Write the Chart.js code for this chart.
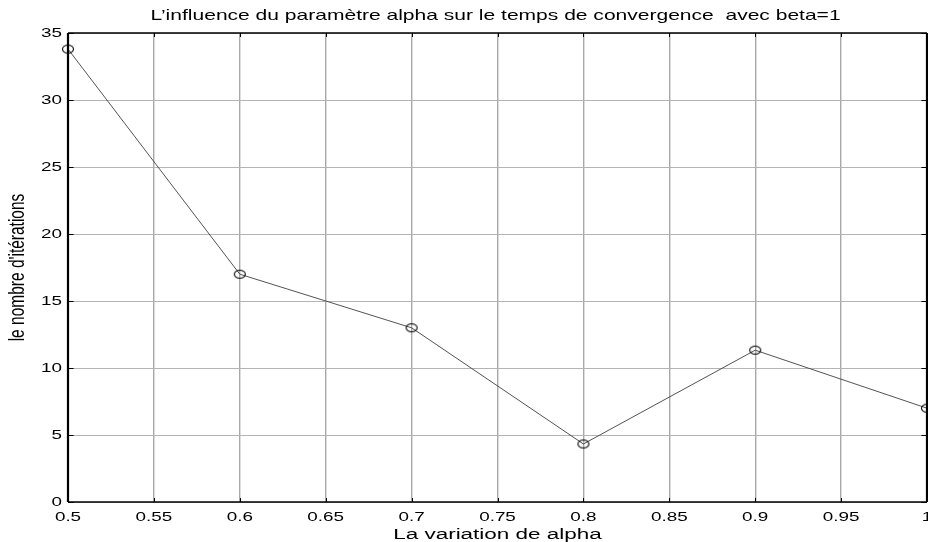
<!DOCTYPE html>
<html lang="fr">
<head>
<meta charset="utf-8">
<title>Influence du paramètre alpha</title>
<script src="https://cdn.jsdelivr.net/npm/chart.js@4.4.1/dist/chart.umd.min.js"></script>
<style>
	html, body { margin: 0; padding: 0; background: #ffffff; }
	#wrap { width: 928px; height: 542px; }
</style>
</head>
<body>
<div id="wrap"><canvas id="alphaChart" width="928" height="542"></canvas></div>
<script>
// Données
const valeursAlpha = [0.5, 0.6, 0.7, 0.8, 0.9, 1.0];
const nombreIterations = [33.8, 17, 13, 4.33, 11.33, 7];
const ticksX = [0.5, 0.55, 0.6, 0.65, 0.7, 0.75, 0.8, 0.85, 0.9, 0.95, 1];
const ticksY = [0, 5, 10, 15, 20, 25, 30, 35];

const titreGraphe = "L\u2019influence du paramètre alpha sur le temps de convergence  avec beta=1";
const titreX = "La variation de alpha";
const titreY = "le nombre d'itérations";

const policeBase = "Arial, 'Liberation Sans', Helvetica, sans-serif";
// La figure d'origine est étirée horizontalement
const etirement = 1.45;

/**
 * Écrit un texte étiré horizontalement (comme sur la figure d'origine).
 */
function texteEtire(ctx, texte, x, y, align, taille) {
	ctx.save();
	ctx.translate(x, y);
	ctx.scale(etirement, 1);
	ctx.font = taille + "px " + policeBase;
	ctx.textAlign = align;
	ctx.fillText(texte, 0, 0);
	ctx.restore();
}

/**
 * Marqueur : cercle vide, un peu élargi comme l'image source.
 */
function creerMarqueur() {
	const c = document.createElement("canvas");
	c.width = 14;
	c.height = 11;
	const g = c.getContext("2d");
	g.strokeStyle = "#000000";
	g.lineWidth = 1.1;
	g.beginPath();
	g.ellipse(7, 5.5, 5.5, 4, 0, 0, Math.PI * 2);
	g.stroke();
	return c;
}

/**
 * Plugin : cadre noir, graduations vers l'intérieur, textes (style MATLAB).
 */
const cadreMatlab = {
	id: "cadreMatlab",
	afterDraw(chart) {
		const ctx = chart.ctx;
		const a = chart.chartArea;
		const sx = chart.scales.x;
		const sy = chart.scales.y;
		const longueur = 4;

		ctx.save();
		ctx.strokeStyle = "#000000";
		ctx.lineWidth = 1;
		ctx.beginPath();
		ticksX.forEach((v) => {
			const px = Math.round(sx.getPixelForValue(v)) + 0.5;
			ctx.moveTo(px, a.bottom);
			ctx.lineTo(px, a.bottom - longueur);
			ctx.moveTo(px, a.top);
			ctx.lineTo(px, a.top + longueur);
		});
		ticksY.forEach((v) => {
			const py = Math.round(sy.getPixelForValue(v)) + 0.5;
			ctx.moveTo(a.left, py);
			ctx.lineTo(a.left + longueur * 1.4, py);
			ctx.moveTo(a.right, py);
			ctx.lineTo(a.right - longueur * 1.4, py);
		});
		ctx.stroke();

		// cadre : bords verticaux plus épais (image étirée)
		ctx.lineWidth = 1.6;
		ctx.beginPath();
		ctx.moveTo(a.left, a.top);
		ctx.lineTo(a.right, a.top);
		ctx.moveTo(a.left, a.bottom);
		ctx.lineTo(a.right, a.bottom);
		ctx.stroke();
		ctx.lineWidth = 2.2;
		ctx.beginPath();
		ctx.moveTo(a.left, a.top);
		ctx.lineTo(a.left, a.bottom);
		ctx.moveTo(a.right, a.top);
		ctx.lineTo(a.right, a.bottom);
		ctx.stroke();

		// Textes
		ctx.fillStyle = "#000000";
		ctx.textBaseline = "alphabetic";
		texteEtire(ctx, titreGraphe, (a.left + a.right) / 2 - 2, 20, "center", 14.5);

		ticksX.forEach((v) => {
			const label = String(Math.round(v * 100) / 100);
			texteEtire(ctx, label, sx.getPixelForValue(v), a.bottom + 19, "center", 13);
		});
		ctx.textBaseline = "middle";
		ticksY.forEach((v) => {
			texteEtire(ctx, String(v), a.left - 6, sy.getPixelForValue(v), "right", 13);
		});
		ctx.textBaseline = "alphabetic";
		texteEtire(ctx, titreX, (a.left + a.right) / 2, 539, "center", 15.5);

		// titre de l'axe Y (pivoté, donc étiré dans l'épaisseur des lettres)
		ctx.save();
		ctx.translate(18, (a.top + a.bottom) / 2);
		ctx.rotate(-Math.PI / 2);
		ctx.scale(1, etirement);
		ctx.font = "15.5px " + policeBase;
		ctx.textAlign = "center";
		ctx.textBaseline = "middle";
		ctx.fillText(titreY, 0, 0);
		ctx.restore();

		ctx.restore();
	},
};

document.addEventListener("DOMContentLoaded", function () {
	const el = document.getElementById("alphaChart");
	if (!el) return;

	new Chart(el, {
		type: "line",
		data: {
			datasets: [
				{
					data: valeursAlpha.map((x, i) => ({ x: x, y: nombreIterations[i] })),
					borderColor: "#404040",
					borderWidth: 0.9,
					pointStyle: creerMarqueur(),
					pointRadius: 5,
					tension: 0,
					clip: false,
				},
			],
		},
		options: {
			responsive: false,
			animation: false,
			layout: {
				autoPadding: false,
				padding: { top: 33, right: 1, left: 0, bottom: 0 },
			},
			plugins: {
				legend: { display: false },
				tooltip: { enabled: false },
				title: { display: false },
			},
			scales: {
				x: {
					type: "linear",
					min: 0.5,
					max: 1,
					afterBuildTicks: (s) => {
						s.ticks = ticksX.map((v) => ({ value: v }));
					},
					afterFit: (s) => {
						s.height = 40;
					},
					border: { display: false },
					grid: {
						color: "#a8a8a8",
						lineWidth: 1.4,
						drawTicks: false,
					},
					ticks: { display: false },
				},
				y: {
					min: 0,
					max: 35,
					afterBuildTicks: (s) => {
						s.ticks = ticksY.map((v) => ({ value: v }));
					},
					afterFit: (s) => {
						s.width = 68;
					},
					border: { display: false },
					grid: {
						color: "#b4b4b4",
						lineWidth: 1,
						drawTicks: false,
					},
					ticks: { display: false },
				},
			},
		},
		plugins: [cadreMatlab],
	});
});
</script>
</body>
</html>
